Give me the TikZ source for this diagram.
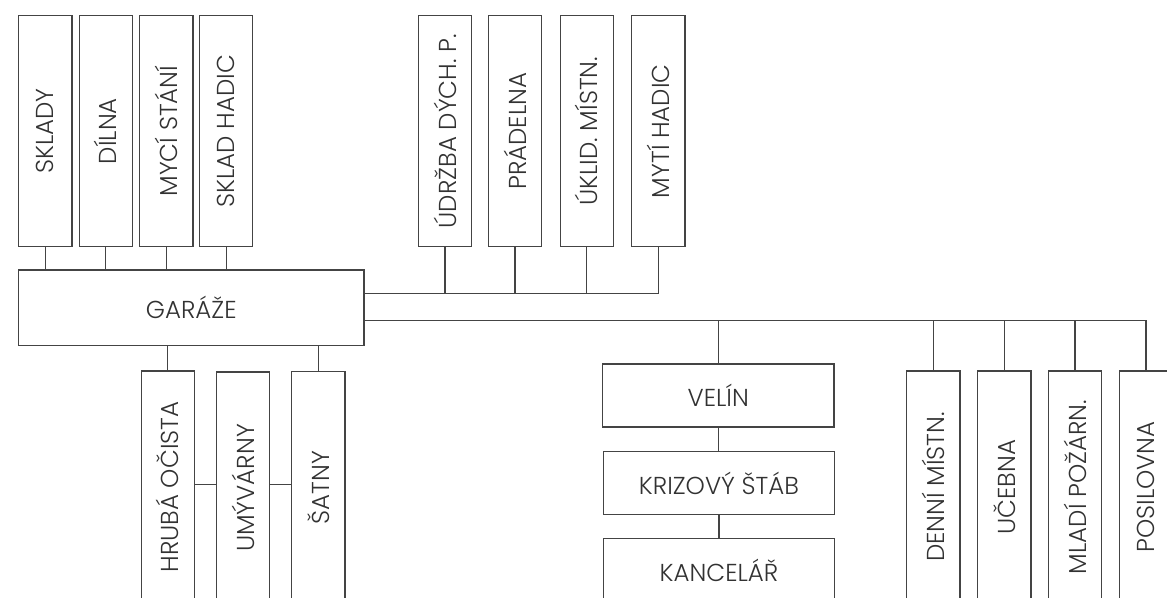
\documentclass[tikz,border=0pt]{standalone}
\usepackage{fontspec}
\setmainfont{Poppins}[UprightFont={* Light}]
\definecolor{ln}{RGB}{68,68,68}
\definecolor{tx}{RGB}{50,50,50}
\begin{document}
\begin{tikzpicture}[x=1pt,y=-1pt,
  every node/.style={font=\fontsize{24.5}{28}\selectfont, text=tx},
  boxbase/.style={draw=ln, line width=1.1pt, inner sep=0pt},
  vbox/.style={boxbase, rotate=90, minimum width=231pt, minimum height=53.3pt},
  hbox/.style={boxbase, minimum width=231.3pt, minimum height=63pt},
  conn/.style={draw=ln, line width=1.1pt}]
\useasboundingbox (0,0) rectangle (1167,597);
\clip (0,0) rectangle (1167,597);
% top left
\node[vbox] (sklady) at (45.3,131.2) {SKLADY};
\node[vbox] (dilna) at (105.7,131.2) {DÍLNA};
\node[vbox] (myci) at (166.3,131.2) {MYCÍ STÁNÍ};
\node[vbox] (skladh) at (226.2,131.2) {SKLAD HADIC};
% top right
\node[vbox] (udrzba) at (445,131.2) {ÚDRŽBA DÝCH. P.};
\node[vbox] (pradelna) at (515,131.2) {PRÁDELNA};
\node[vbox] (uklid) at (586.7,131.2) {ÚKLID. MÍSTN.};
\node[vbox] (myti) at (658.3,131.2) {MYTÍ HADIC};
% garaze
\node[boxbase, minimum width=345.3pt, minimum height=75.7pt] (garaze) at (191.3,307.8) {GARÁŽE};
% bottom left
\node[vbox, minimum width=232pt] (hruba) at (167.7,487) {HRUBÁ OČISTA};
\node[vbox, minimum width=232pt] (umy) at (243,488) {UMÝVÁRNY};
\node[vbox, minimum width=232pt] (satny) at (318.3,487.5) {ŠATNY};
% middle
\node[hbox] (velin) at (718.3,395.5) {VELÍN};
\node[hbox] (kriz) at (719,483.2) {KRIZOVÝ ŠTÁB};
\node[hbox] (kanc) at (719,570.2) {KANCELÁŘ};
% right
\node[vbox, minimum width=232pt] (denni) at (933.3,487) {DENNÍ MÍSTN.};
\node[vbox, minimum width=232pt] (ucebna) at (1004.3,487) {UČEBNA};
\node[vbox, minimum width=232pt] (mladi) at (1075,487) {MLADÍ POŽÁRN.};
\node[vbox, minimum width=232pt] (posil) at (1146,487) {POSILOVNA};
% buses
\coordinate (bus1) at (0,293.3);
\coordinate (bus2) at (0,320.7);
% connectors top left
\foreach \n in {sklady,dilna,myci,skladh}
  \path[conn] (\n.west) -- (\n.west |- garaze.north);
% connectors top right
\path[conn] (garaze.east |- bus1) -| (myti.west);
\foreach \n in {udrzba,pradelna,uklid}
  \path[conn] (\n.west) -- (\n.west |- bus1);
% bottom right bus
\path[conn] (garaze.east |- bus2) -| (posil.east);
\path[conn] (velin.north |- bus2) -- (velin.north);
\foreach \n in {denni,ucebna,mladi}
  \path[conn] (\n.east |- bus2) -- (\n.east);
% middle chain
\path[conn] (velin.south) -- (velin.south |- kriz.north);
\path[conn] (kriz.south) -- (kriz.south |- kanc.north);
% bottom left
\path[conn] (garaze.south -| hruba.east) -- (hruba.east);
\path[conn] (garaze.south -| satny.east) -- (satny.east);
\coordinate (mid) at (0,484.3);
\path[conn] (hruba.south |- mid) -- (umy.north |- mid);
\path[conn] (umy.south |- mid) -- (satny.north |- mid);
\end{tikzpicture}
\end{document}
